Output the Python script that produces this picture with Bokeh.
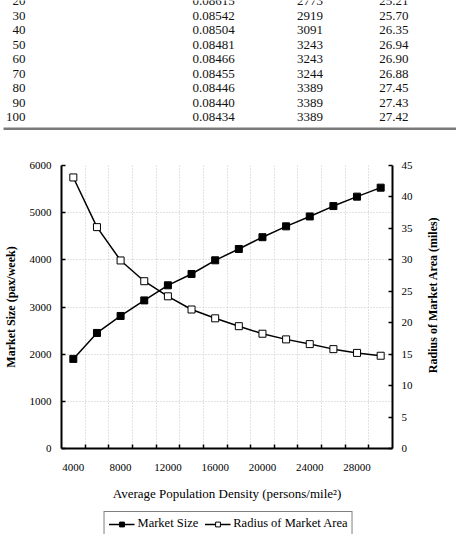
import math
from bokeh.plotting import figure
from bokeh.models import Range1d, LinearAxis, FixedTicker, Legend, LegendItem, ColumnDataSource
from bokeh.layouts import column, row
from bokeh.embed import file_html
from bokeh.resources import INLINE
from bokeh.core.properties import value

FONT = "Liberation Serif"

# ---- table rows shown above the chart ----
load_factor = [20, 30, 40, 50, 60, 70, 80, 90, 100]
unit_cost = ["0.08615", "0.08542", "0.08504", "0.08481", "0.08466",
             "0.08455", "0.08446", "0.08440", "0.08434"]
table_size = [2773, 2919, 3091, 3243, 3243, 3244, 3389, 3389, 3389]
table_radius = ["25.21", "25.70", "26.35", "26.94", "26.90",
                "26.88", "27.45", "27.43", "27.42"]

# ---- chart series ----
density = [4000, 6000, 8000, 10000, 12000, 14000, 16000, 18000,
           20000, 22000, 24000, 26000, 28000, 30000]
market_size = [1900, 2450, 2810, 3140, 3460, 3700, 3990, 4230,
               4480, 4710, 4920, 5140, 5340, 5530]
market_radius = [43.1, 35.2, 29.9, 26.6, 24.2, 22.1, 20.7, 19.45,
                 18.25, 17.35, 16.6, 15.8, 15.2, 14.75]
x_label_ticks = [4000, 8000, 12000, 16000, 20000, 24000, 28000]
size_ticks = [0, 1000, 2000, 3000, 4000, 5000, 6000]
radius_ticks = [0, 5, 10, 15, 20, 25, 30, 35, 40, 45]
series_names = ["Market Size", "Radius of Market Area"]
radius_title = "Radius of Market Area (miles)"

W = 456
TBL_H = 135
LEG_H = 24
SIDE_W = 34
CHART_H = 534 - TBL_H - LEG_H
CHART_W = W - SIDE_W
BORDER_T, BORDER_B = 30, 62

# ---------------- table ----------------
tbl = figure(width=W, height=TBL_H, x_range=Range1d(0, W), y_range=Range1d(TBL_H, 0),
             output_backend="svg", toolbar_location=None, min_border=0,
             x_axis_location=None, y_axis_location=None)
tbl.grid.visible = False
tbl.outline_line_color = None

row0, row_step = 0.8, 14.49
rows = [row0 + i * row_step for i in range(len(load_factor))]
tstyle = dict(text_font=value(FONT), text_font_size="13px", text_color="#111111",
              text_baseline="middle")
n = len(load_factor)
tbl.text(x=[25] * n, y=rows, text=[str(v) for v in load_factor], text_align="right", **tstyle)
tbl.text(x=[213] * n, y=rows, text=unit_cost, text_align="center", **tstyle)
tbl.text(x=[309.5] * n, y=rows, text=[str(v) for v in table_size], text_align="center", **tstyle)
tbl.text(x=[393.3] * n, y=rows, text=table_radius, text_align="center", **tstyle)
tbl.segment(x0=[3], y0=[128.3], x1=[W], y1=[128.3], line_color="#7a7a7a", line_width=2.5)

# ---------------- chart ----------------
p = figure(width=CHART_W, height=CHART_H, x_range=Range1d(3000, 31000), y_range=Range1d(0, 6000),
           output_backend="svg", toolbar_location=None,
           min_border_left=57, min_border_right=30, min_border_top=BORDER_T,
           min_border_bottom=BORDER_B)
p.outline_line_color = None
p.extra_y_ranges = {"radius": Range1d(0, 45)}

# category boundaries sit halfway between consecutive densities
boundaries = [(a + b) / 2 for a, b in zip(density[:-1], density[1:])]
xticker = FixedTicker(ticks=x_label_ticks, minor_ticks=boundaries)

GRID_COLOR = "#c4c4c4"
GRID_DASH = "1 2"

xa = p.xaxis[0]
xa.ticker = xticker
xa.major_tick_line_color = None
xa.minor_tick_in = 4
xa.minor_tick_out = 0
xa.minor_tick_line_color = "black"
xa.minor_tick_line_width = 1.5
xa.axis_line_width = 2
xa.major_label_standoff = 9
xa.major_label_text_font = FONT
xa.major_label_text_font_size = "11px"
xa.major_label_text_color = "black"
xa.axis_label = "Average Population Density (persons/mile\u00b2)"
xa.axis_label_text_font = FONT
xa.axis_label_text_font_size = "13px"
xa.axis_label_text_font_style = "normal"
xa.axis_label_text_color = "black"
xa.axis_label_standoff = 12

p.xgrid.ticker = xticker
p.xgrid.grid_line_color = None
p.xgrid.minor_grid_line_color = GRID_COLOR
p.xgrid.minor_grid_line_dash = GRID_DASH
p.xgrid.minor_grid_line_width = 1

ya = p.yaxis[0]
ya.ticker = FixedTicker(ticks=size_ticks)
ya.major_tick_in = 4
ya.major_tick_out = 0
ya.major_tick_line_width = 1.5
ya.minor_tick_line_color = None
ya.axis_line_width = 2
ya.major_label_standoff = 10
ya.major_label_text_font = FONT
ya.major_label_text_font_size = "11px"
ya.major_label_text_color = "black"
ya.axis_label = "Market Size (pax/week)"
ya.axis_label_text_font = FONT
ya.axis_label_text_font_size = "12px"
ya.axis_label_text_font_style = "bold"
ya.axis_label_text_color = "black"
ya.axis_label_standoff = 9

p.ygrid.ticker = FixedTicker(ticks=size_ticks[1:-1])
p.ygrid.grid_line_color = GRID_COLOR
p.ygrid.grid_line_dash = GRID_DASH

ra = LinearAxis(y_range_name="radius", ticker=FixedTicker(ticks=radius_ticks))
ra.major_tick_in = 4
ra.major_tick_out = 0
ra.major_tick_line_width = 1.5
ra.minor_tick_line_color = None
ra.axis_line_width = 2
ra.major_label_standoff = 9
ra.major_label_text_font = FONT
ra.major_label_text_font_size = "11px"
ra.major_label_text_color = "black"
p.add_layout(ra, "right")

src = ColumnDataSource(dict(density=density, size=market_size, radius=market_radius))
size_line = dict(line_color="black", line_width=1.5)
size_mark = dict(marker="square", size=7, fill_color="black", line_color="black")
rad_line = dict(line_color="black", line_width=1.5)
rad_mark = dict(marker="square", size=7, fill_color="white", line_color="black", line_width=1)

p.line("density", "size", source=src, **size_line)
p.scatter("density", "size", source=src, **size_mark)
p.line("density", "radius", source=src, y_range_name="radius", **rad_line)
p.scatter("density", "radius", source=src, y_range_name="radius", **rad_mark)

# ---------------- right-hand axis title strip ----------------
side = figure(width=SIDE_W, height=CHART_H, x_range=Range1d(0, SIDE_W), y_range=Range1d(0, CHART_H),
              output_backend="svg", toolbar_location=None, min_border=0,
              x_axis_location=None, y_axis_location=None)
side.grid.visible = False
side.outline_line_color = None
frame_mid = BORDER_B + (CHART_H - BORDER_T - BORDER_B) / 2
side.text(x=[10], y=[frame_mid], text=[radius_title], angle=math.pi / 2,
          text_align="center", text_baseline="middle", text_font=value(FONT),
          text_font_size="12px", text_font_style="bold", text_color="black")

# ---------------- legend strip ----------------
leg = figure(width=W, height=LEG_H, x_range=Range1d(0, 1), y_range=Range1d(0, 1),
             output_backend="svg", toolbar_location=None, min_border=0,
             x_axis_location=None, y_axis_location=None)
leg.grid.visible = False
leg.outline_line_color = None
# legend key renderers, kept outside the visible strip
proxy = ColumnDataSource(dict(x=[-5, -4], y=[-5, -4]))
k1 = [leg.line("x", "y", source=proxy, **size_line), leg.scatter("x", "y", source=proxy, **size_mark)]
k2 = [leg.line("x", "y", source=proxy, **rad_line), leg.scatter("x", "y", source=proxy, **rad_mark)]
legend = Legend(items=[LegendItem(label=series_names[0], renderers=k1),
                       LegendItem(label=series_names[1], renderers=k2)],
                orientation="horizontal", location="top_center",
                label_text_font=FONT, label_text_font_size="12.5px", label_text_color="black",
                glyph_width=26, glyph_height=12, label_standoff=3, spacing=6,
                padding=4, margin=1, border_line_color="black", border_line_width=1)
leg.add_layout(legend)

layout = column(tbl, row(p, side, spacing=0), leg, spacing=0)
open("out.html", "w").write(file_html(layout, INLINE))
